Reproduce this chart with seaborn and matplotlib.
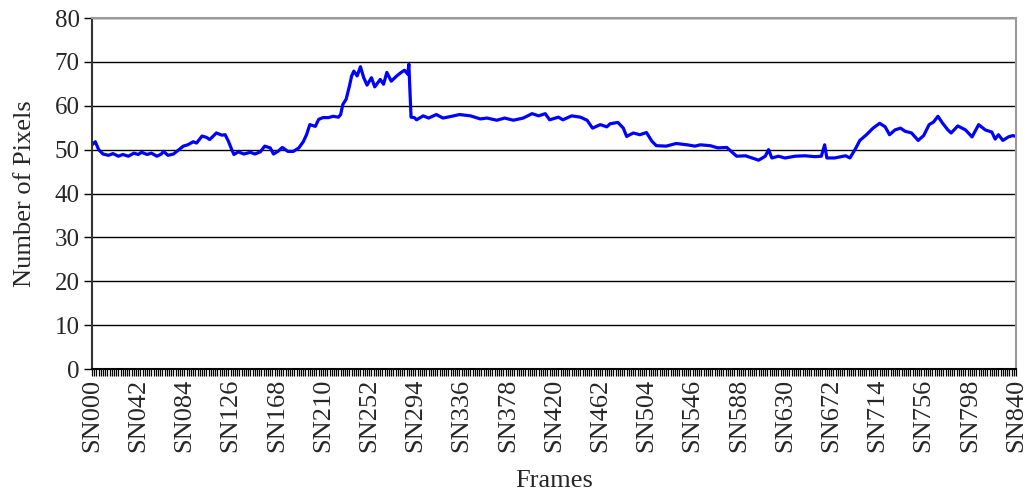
import numpy as np
import pandas as pd
import seaborn as sns
import matplotlib
matplotlib.use('Agg')
import matplotlib.pyplot as plt
from matplotlib.ticker import MultipleLocator

# frame index and pixel count
frames = [0, 3, 6, 10, 15, 19, 24, 28, 33, 38, 42, 45, 50, 54, 59, 63, 65, 69, 74, 78,
          83, 87, 92, 95, 100, 104, 107, 113, 118, 121, 124, 127, 129, 133, 138, 144, 148, 153, 157, 162,
          165, 169, 173, 178, 183, 188, 192, 195, 198, 203, 206, 210, 215, 219, 224, 226, 228, 231, 234, 236,
          238, 241, 244, 247, 250, 254, 257, 262, 265, 268, 272, 277, 281, 284, 287, 288, 290, 293, 295, 301,
          306, 313, 319, 327, 334, 344, 353, 359, 368, 375, 383, 392, 400, 406, 412, 416, 424, 428, 436, 444,
          450, 455, 462, 468, 471, 478, 483, 486, 492, 498, 504, 509, 513, 522, 531, 541, 548, 553, 562, 569,
          577, 581, 586, 594, 600, 606, 612, 615, 618, 624, 630, 639, 648, 657, 663, 666, 668, 675, 685, 689,
          694, 698, 704, 710, 716, 721, 725, 730, 735, 739, 745, 751, 756, 761, 765, 769, 773, 778, 781, 787,
          794, 800, 806, 812, 818, 821, 824, 828, 833, 837, 840]
pixels = [51.1, 51.8, 50.0, 49.0, 48.7, 49.1, 48.5, 48.9, 48.5, 49.2, 48.9, 49.4, 48.9, 49.2, 48.5, 49.0, 49.6, 48.7, 49.0, 49.8,
          50.8, 51.1, 51.8, 51.5, 53.1, 52.8, 52.3, 53.8, 53.3, 53.4, 51.9, 50.0, 48.9, 49.5, 49.0, 49.4, 49.0, 49.5, 50.8, 50.4,
          49.0, 49.6, 50.5, 49.6, 49.6, 50.4, 51.8, 53.4, 55.7, 55.3, 56.9, 57.3, 57.3, 57.6, 57.4, 58.0, 60.3, 61.5, 64.5, 66.8,
          67.9, 66.8, 68.9, 66.4, 64.7, 66.4, 64.3, 66.0, 64.9, 67.6, 65.6, 66.8, 67.6, 68.1, 67.2, 69.5, 57.4, 57.3, 56.8, 57.7,
          57.2, 58.0, 57.2, 57.6, 58.0, 57.7, 57.0, 57.2, 56.7, 57.2, 56.7, 57.2, 58.2, 57.7, 58.2, 56.8, 57.4, 56.8, 57.7, 57.4,
          56.7, 54.9, 55.7, 55.2, 55.9, 56.2, 54.9, 53.0, 53.8, 53.4, 53.9, 51.9, 50.9, 50.8, 51.4, 51.1, 50.8, 51.1, 50.9, 50.4,
          50.5, 49.6, 48.5, 48.6, 48.1, 47.6, 48.5, 50.0, 48.1, 48.5, 48.1, 48.5, 48.6, 48.4, 48.5, 51.1, 48.1, 48.1, 48.6, 48.1,
          50.2, 52.1, 53.4, 54.9, 56.0, 55.2, 53.4, 54.5, 54.9, 54.2, 53.8, 52.1, 53.2, 55.7, 56.3, 57.6, 56.1, 54.5, 53.8, 55.4,
          54.5, 52.9, 55.7, 54.5, 54.0, 52.4, 53.4, 52.1, 52.9, 53.2, 53.0]
tick_frames = list(range(0, 841, 42))
tick_labels = ['SN%03d' % t for t in tick_frames]

df = pd.DataFrame({'frame': frames, 'pixels': pixels})

sns.set_style('white')
plt.rcParams['font.family'] = ['Liberation Serif', 'DejaVu Serif']

fig = plt.figure(figsize=(10.26, 4.96), dpi=100)
ax = fig.add_axes([0.0897, 0.256, 0.9006, 0.7077])

sns.lineplot(data=df, x='frame', y='pixels', color='#0000FF', linewidth=2.3, ax=ax)

ax.set_xlim(0, 840)
ax.set_ylim(0, 80)
ax.set_yticks(range(0, 81, 10))
ax.yaxis.grid(True, color='black', linewidth=1)
ax.xaxis.grid(False)
ax.set_axisbelow(True)

ax.set_xticks(tick_frames)
ax.set_xticklabels(tick_labels, rotation=90, fontsize=19)
ax.xaxis.set_minor_locator(MultipleLocator(2))
ax.tick_params(axis='x', which='both', direction='out', length=5, width=0.9, color='black',
               bottom=True, pad=2)
ax.tick_params(axis='y', which='major', direction='out', length=6, width=1, color='black',
               left=True, labelsize=18, pad=3)

ax.set_xlabel('Frames', fontsize=19, labelpad=13)
ax.set_ylabel('Number of Pixels', fontsize=19, labelpad=13)

ax.spines['left'].set_color('#333333')
ax.spines['bottom'].set_color('black')
ax.spines['top'].set_color('#999999')
ax.spines['right'].set_color('#999999')
for s in ax.spines.values():
    s.set_linewidth(1.5)

plt.savefig('out.png', dpi=100)
